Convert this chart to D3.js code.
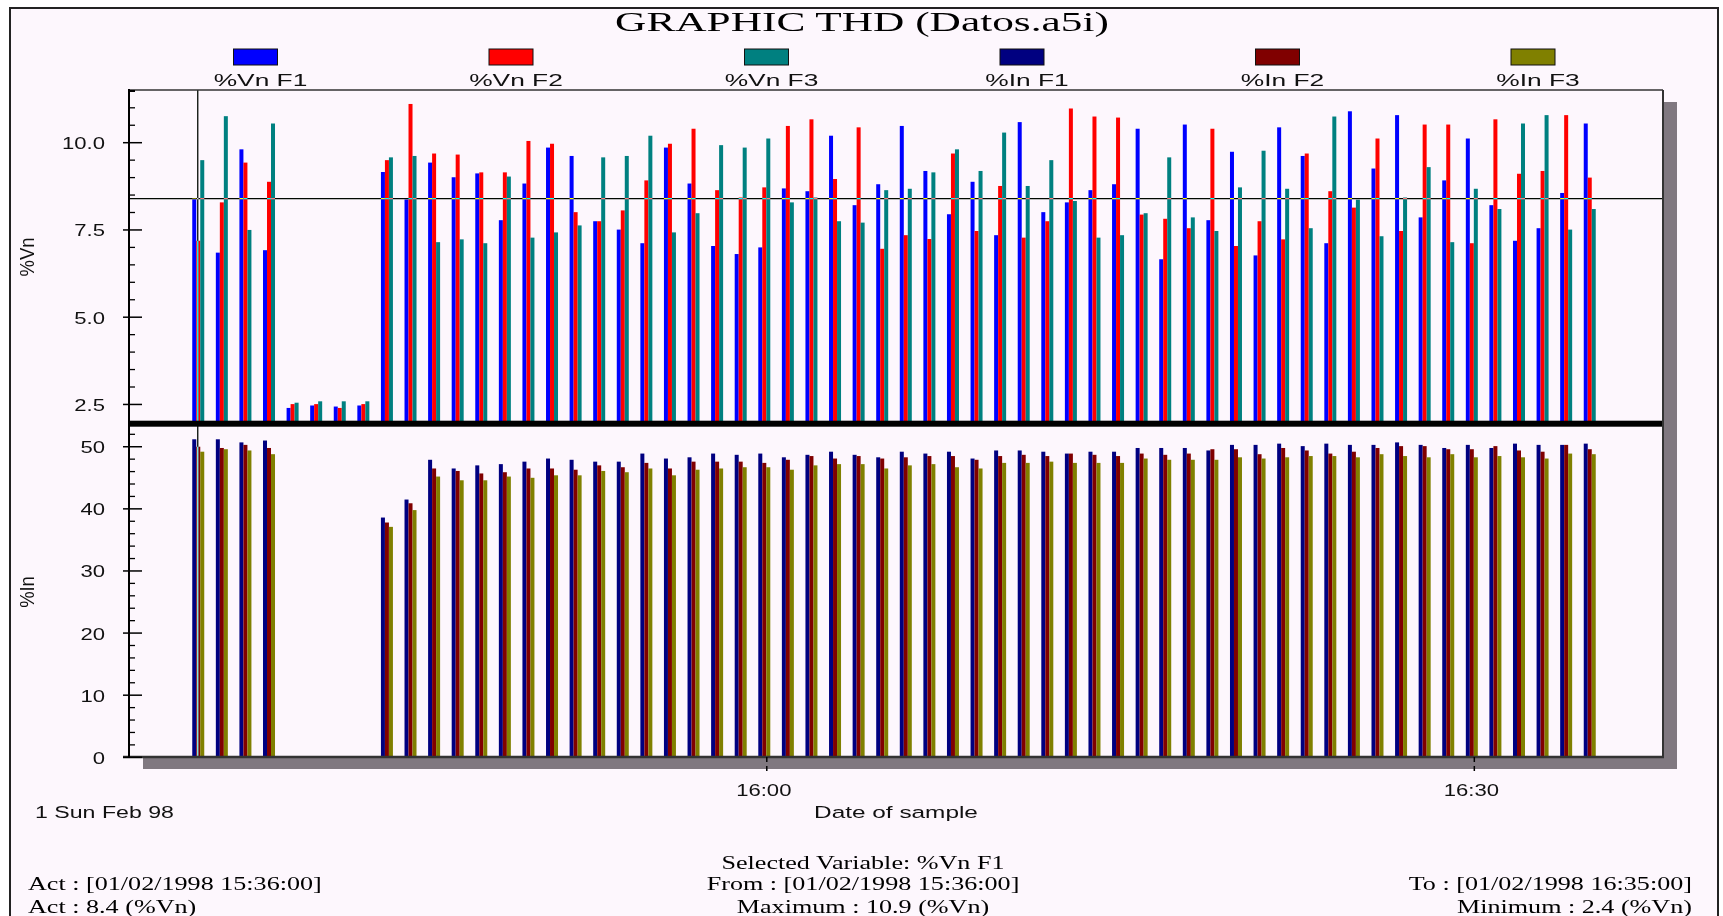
<!DOCTYPE html>
<html><head><meta charset="utf-8">
<script src="https://cdn.jsdelivr.net/npm/d3@7"></script>
<style>
html,body{margin:0;padding:0;background:#ffffff;}
svg{display:block;}
</style></head><body>
<svg id="c" width="1723" height="916"></svg>
<script>
// ---------------- data ----------------
const seriesNames  = ["%Vn F1","%Vn F2","%Vn F3","%In F1","%In F2","%In F3"];
const seriesColors = ["#0000ff","#ff0000","#008080","#000080","#800000","#808000"];

const vnF1 = [8.4,6.85,9.81,6.92,2.4,2.47,2.44,2.47,9.16,8.38,9.43,9.01,9.12,7.78,8.83,9.86,9.62,7.75,7.51,7.12,
  9.86,8.83,7.04,6.81,7.00,8.69,8.61,10.20,8.21,8.81,10.48,9.19,7.95,8.88,7.35,10.59,8.01,8.29,8.64,8.81,
  10.40,6.66,10.52,7.78,9.74,6.77,10.44,9.62,7.12,10.9,9.26,10.79,7.86,8.92,10.12,8.21,7.19,7.55,8.56,10.55];
const vnF2 = [7.19,8.29,9.43,8.88,2.51,2.51,2.40,2.51,9.50,11.11,9.69,9.66,9.15,9.15,10.05,9.97,8.01,7.75,8.06,8.92,
  9.97,10.40,8.64,8.43,8.72,10.48,10.67,8.96,10.44,6.96,7.35,7.24,9.69,7.47,8.76,7.28,7.75,10.98,10.75,10.72,
  7.94,7.82,7.55,10.40,7.04,7.75,7.23,9.69,8.61,8.14,10.12,7.47,10.52,10.52,7.12,10.67,9.11,9.19,10.79,9.00];
const vnF3 = [9.50,10.76,7.50,10.55,2.55,2.59,2.59,2.59,9.58,9.62,7.15,7.23,7.12,9.03,7.28,7.43,7.63,9.58,9.62,10.20,
  7.43,7.98,9.93,9.86,10.12,8.29,8.43,7.75,7.71,8.64,8.68,9.15,9.81,9.19,10.29,8.76,9.50,8.33,7.28,7.35,
  7.98,9.58,7.86,7.47,8.72,9.77,8.68,7.55,10.75,8.37,7.32,8.43,9.30,7.15,8.68,8.10,10.55,10.79,7.51,8.10];
const inF1 = [51.2,51.2,50.7,51.0,null,null,null,null,38.6,41.5,47.9,46.5,47.0,47.2,47.6,48.1,47.9,47.6,47.6,48.9,
  48.1,48.3,48.9,48.7,48.9,48.3,48.7,49.2,48.7,48.3,49.2,48.9,49.2,48.1,49.4,49.4,49.2,48.9,49.2,49.2,
  49.8,49.8,49.8,49.4,50.3,50.3,50.5,50.1,50.5,50.3,50.3,50.7,50.3,49.8,50.3,49.8,50.5,50.3,50.3,50.5];
const inF2 = [50.0,49.8,50.3,49.8,null,null,null,null,37.8,40.9,46.5,46.1,45.7,45.9,46.5,46.5,46.3,47.0,46.7,47.4,
  46.5,47.6,47.6,47.6,47.4,47.9,48.5,48.1,48.5,48.1,48.3,48.5,48.5,47.9,48.5,48.7,48.5,48.9,48.7,48.5,
  48.9,48.7,48.9,49.6,49.6,48.8,49.8,49.4,48.9,49.2,49.8,50.1,50.1,49.6,49.6,50.1,49.4,49.2,50.3,49.6];
const inF3 = [49.2,49.6,49.4,48.8,null,null,null,null,37.1,39.8,45.2,44.6,44.6,45.2,45.0,45.4,45.4,46.1,45.9,46.5,
  45.4,46.3,46.5,46.7,46.7,46.3,47.0,47.2,47.2,46.5,47.0,47.2,46.7,46.5,47.4,47.4,47.6,47.4,47.4,47.4,
  48.1,47.9,47.9,47.9,48.3,48.1,48.3,48.5,48.5,48.3,48.8,48.5,48.3,48.8,48.3,48.5,48.3,48.1,48.9,48.8];

const firstSample = "1998-02-01T15:36:00";
const lastSample  = "1998-02-01T16:35:00";
const axisStart   = "1998-02-01T15:33:00";
const axisEnd     = "1998-02-01T16:38:00";
const timeTicks   = ["1998-02-01T16:00:00","1998-02-01T16:30:00"];
const vnTicks = [2.5,5.0,7.5,10.0];
const inTicks = [0,10,20,30,40,50];
const vnDomain = [2,11.5];
const inDomain = [0,53.5];
const selectedIndex = 0;

const titleText = "GRAPHIC THD (Datos.a5i)";
const dateLabel = "1 Sun Feb 98";
const xTitle = "Date of sample";
const footerCenter = ["Selected Variable: %Vn F1","From : [01/02/1998 15:36:00]","Maximum : 10.9 (%Vn)"];
const footerLeft   = ["Act : [01/02/1998 15:36:00]","Act : 8.4 (%Vn)"];
const footerRight  = ["To : [01/02/1998 16:35:00]","Minimum : 2.4 (%Vn)"];

// ---------------- drawing ----------------
const SERIF = "'Liberation Serif','Times New Roman',serif";
const SANS  = "'Liberation Sans',Arial,sans-serif";
const BG = "#fdf7fd";
const svg = d3.select("#c");
const parse = d3.isoParse;
const sampleTimes = d3.timeMinute.range(parse(firstSample), d3.timeMinute.offset(parse(lastSample),1));

const L = 128, R = 1663, T = 90, B = 757, SPLIT = 423.7;
const x = d3.scaleTime().domain([parse(axisStart), parse(axisEnd)]).range([130, R]);
const yTop = d3.scaleLinear().domain(vnDomain).range([421.9, 90.35]);
const yBot = d3.scaleLinear().domain(inDomain).range([757.3, 425]);

function addText(parent, str, px, py, o) {
  const t = parent.append("text")
    .attr("text-anchor", o.anchor || "start")
    .style("font-family", o.family)
    .style("font-size", o.size + "px")
    .attr("fill", o.fill || "#000")
    .text(str);
  let sx = o.sx || 1;
  if (o.width) sx = o.width / t.node().getComputedTextLength();
  t.attr("transform", `translate(${px},${py}) scale(${sx},1)`);
  return sx;
}

// frame
svg.append("rect").attr("x",0).attr("y",0).attr("width",1723).attr("height",916).attr("fill","#ffffff");
svg.append("rect").attr("x",10).attr("y",8).attr("width",1708).attr("height",912)
  .attr("fill",BG).attr("stroke","#222").attr("stroke-width",2);

// title
addText(svg, titleText, 862, 31, {family:SERIF, size:28, anchor:"middle", width:494});

// legend
const lx = d3.scalePoint().domain(seriesNames).range([255.5,1533]);
seriesNames.forEach((n,i)=>{
  const cx = lx(n);
  svg.append("rect").attr("x",cx-22).attr("y",49).attr("width",44).attr("height",16)
    .attr("fill",seriesColors[i]).attr("stroke","#111").attr("stroke-width",1);
  addText(svg, n, cx+5, 86, {family:SANS, size:17, anchor:"middle", sx:1.55, fill:"#111"});
});

// shadow
svg.append("rect").attr("x",R).attr("y",102).attr("width",14).attr("height",667).attr("fill","#807880");
svg.append("rect").attr("x",143).attr("y",B).attr("width",R+14-143).attr("height",12).attr("fill","#807880");

// plot background
svg.append("rect").attr("x",L).attr("y",T).attr("width",R-L).attr("height",B-T).attr("fill",BG);

// bars
const vnSeries = [vnF1,vnF2,vnF3];
const inSeries = [inF1,inF2,inF3];
const BW = 4, OFF = -8.5;
const gTop = svg.append("g");
vnSeries.forEach((vals,si)=>{
  gTop.selectAll(null).data(vals.map((v,i)=>({v,t:sampleTimes[i]})).filter(d=>d.v!=null))
    .enter().append("rect")
    .attr("x",d=>x(d.t)+OFF+si*BW).attr("width",BW)
    .attr("y",d=>yTop(d.v)).attr("height",d=>yTop(vnDomain[0])-yTop(d.v))
    .attr("fill",seriesColors[si]);
});
const gBot = svg.append("g");
inSeries.forEach((vals,si)=>{
  gBot.selectAll(null).data(vals.map((v,i)=>({v,t:sampleTimes[i]})).filter(d=>d.v!=null))
    .enter().append("rect")
    .attr("x",d=>x(d.t)+OFF+si*BW).attr("width",BW)
    .attr("y",d=>yBot(d.v)).attr("height",d=>yBot(0)-yBot(d.v))
    .attr("fill",seriesColors[si+3]);
});

// cursor lines (XOR-like)
const cx0 = x(sampleTimes[selectedIndex]) - 3;
svg.append("line").attr("x1",cx0).attr("x2",cx0).attr("y1",T).attr("y2",B)
  .attr("stroke","#fff").attr("stroke-width",1.3).style("mix-blend-mode","difference");
svg.append("line").attr("x1",L).attr("x2",R).attr("y1",yTop(vnF1[selectedIndex])).attr("y2",yTop(vnF1[selectedIndex]))
  .attr("stroke","#fff").attr("stroke-width",1.3).style("mix-blend-mode","difference");

// separator
svg.append("rect").attr("x",L).attr("y",SPLIT-3).attr("width",R-L).attr("height",6).attr("fill","#000");

// frame lines
svg.append("line").attr("x1",L).attr("x2",R).attr("y1",T).attr("y2",T).attr("stroke","#333").attr("stroke-width",1.5);
svg.append("line").attr("x1",R).attr("x2",R).attr("y1",T).attr("y2",B).attr("stroke","#333").attr("stroke-width",2);
svg.append("line").attr("x1",123).attr("x2",R+1).attr("y1",B).attr("y2",B).attr("stroke","#333").attr("stroke-width",2.5);
svg.append("line").attr("x1",129).attr("x2",129).attr("y1",T-1).attr("y2",B).attr("stroke","#000").attr("stroke-width",2);
svg.append("line").attr("x1",128).attr("x2",135).attr("y1",T+1).attr("y2",T+1).attr("stroke","#000").attr("stroke-width",2);

// y ticks top
const topMinor = d3.range(3.0, 11.01, 0.5).filter(v=>!vnTicks.includes(v));
topMinor.forEach(v=>{
  svg.append("line").attr("x1",129).attr("x2",135).attr("y1",yTop(v)).attr("y2",yTop(v)).attr("stroke","#000").attr("stroke-width",1.3);
});
vnTicks.forEach(v=>{
  svg.append("line").attr("x1",123).attr("x2",142).attr("y1",yTop(v)).attr("y2",yTop(v)).attr("stroke","#000").attr("stroke-width",1.5);
  addText(svg, d3.format(".1f")(v), 105, yTop(v)+6.5, {family:SANS, size:17, anchor:"end", sx:1.3, fill:"#111"});
});
// y ticks bottom
const botMinor = d3.range(2, 53, 2).filter(v=>!inTicks.includes(v));
botMinor.forEach(v=>{
  svg.append("line").attr("x1",129).attr("x2",135).attr("y1",yBot(v)).attr("y2",yBot(v)).attr("stroke","#000").attr("stroke-width",1.3);
});
inTicks.forEach(v=>{
  svg.append("line").attr("x1",123).attr("x2",142).attr("y1",yBot(v)).attr("y2",yBot(v)).attr("stroke","#000").attr("stroke-width",1.5);
  addText(svg, String(v), 105, yBot(v)+6.5, {family:SANS, size:17, anchor:"end", sx:1.3, fill:"#111"});
});

// axis titles
function vText(str, px, py) {
  svg.append("text").attr("text-anchor","middle")
    .attr("transform",`translate(${px},${py}) rotate(-90) scale(1.15,1.3)`)
    .style("font-family",SANS).style("font-size","16px").attr("fill","#111").text(str);
}
vText("%Vn", 34, 257);
vText("%In", 34, 592);

// x ticks
timeTicks.forEach(s=>{
  const tx = x(parse(s));
  svg.append("line").attr("x1",tx).attr("x2",tx).attr("y1",B).attr("y2",B+16)
    .attr("stroke","#000").attr("stroke-width",1.5).attr("stroke-dasharray","5,4");
  addText(svg, d3.timeFormat("%H:%M")(parse(s)), tx-3, 796, {family:SANS, size:17, anchor:"middle", sx:1.3, fill:"#111"});
});
addText(svg, dateLabel, 35, 818, {family:SANS, size:17, anchor:"start", width:139, fill:"#111"});
addText(svg, xTitle, 896, 818, {family:SANS, size:17, anchor:"middle", width:164, fill:"#111"});

// footer
const serifSx = (function(){
  const t = svg.append("text").style("font-family",SERIF).style("font-size","18px").text(footerLeft[0]);
  const w = t.node().getComputedTextLength(); t.remove(); return 294 / w;
})();
const lineY = [869, 890, 913];
footerCenter.forEach((s,i)=> addText(svg, s, 863, lineY[i], {family:SERIF, size:18, anchor:"middle", sx:serifSx}));
footerLeft.forEach((s,i)=> addText(svg, s, 28, lineY[i+1], {family:SERIF, size:18, anchor:"start", sx:serifSx}));
footerRight.forEach((s,i)=> addText(svg, s, 1692, lineY[i+1], {family:SERIF, size:18, anchor:"end", sx:serifSx}));
</script>
</body></html>
